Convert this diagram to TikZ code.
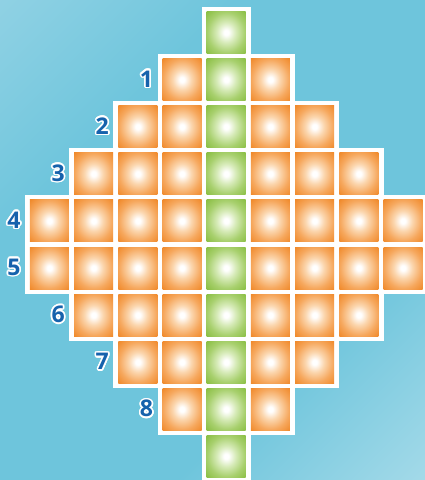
\documentclass[tikz,border=0pt]{standalone}
\usepackage{fontspec}
\setsansfont{Open Sans}
\usepackage[copies]{contour}
\contourlength{1.6pt}
\definecolor{bgA}{HTML}{AADBEA}
\definecolor{bgB}{HTML}{6EC5DC}
\definecolor{bgC}{HTML}{CBE9F2}
\definecolor{oLight}{HTML}{FBD6AE}
\definecolor{oMid}{HTML}{F6A85E}
\definecolor{oDeep}{HTML}{F08A2C}
\definecolor{gLight}{HTML}{D7EBB9}
\definecolor{gMid}{HTML}{A8D06E}
\definecolor{gDeep}{HTML}{8BBF45}
\definecolor{numblue}{HTML}{1662AC}
\pgfdeclarehorizontalshading{bgshade}{100bp}{color(0bp)=(bgA); color(33bp)=(bgB); color(66bp)=(bgB); color(100bp)=(bgC)}
\pgfdeclareradialshading{oshade}{\pgfpoint{0bp}{0bp}}{color(0bp)=(white); color(3bp)=(white); color(12bp)=(oLight); color(24bp)=(oMid); color(35bp)=(oDeep); color(50bp)=(oDeep)}
\pgfdeclareradialshading{gshade}{\pgfpoint{0bp}{0bp}}{color(0bp)=(white); color(3bp)=(white); color(12bp)=(gLight); color(24bp)=(gMid); color(35bp)=(gDeep); color(50bp)=(gDeep)}
\tikzset{
  lbl/.style={font=\sffamily\bfseries\fontsize{23}{23}\selectfont, text=numblue, inner sep=0pt},
  cellbg/.style={fill=white},
}
\begin{document}
\begin{tikzpicture}[x=1pt,y=-1pt]
\useasboundingbox (0,0) rectangle (425,480);
\clip (0,0) rectangle (425,480);
\shade[shading=bgshade, shading angle=-45] (0,0) rectangle (425,480);
% white backing
\foreach \r/\w in {0/0,1/1,2/2,3/3,4/4,5/4,6/3,7/2,8/1,9/0}{
  \pgfmathtruncatemacro\lo{-\w}
  \foreach \c in {\lo,...,\w}{
    \fill[cellbg] ({206.7+44.2*\c-5},{11.5+47.1*\r-5}) rectangle ++(49.2,52.1);
  }
}
% coloured cells
\foreach \r/\w in {0/0,1/1,2/2,3/3,4/4,5/4,6/3,7/2,8/1,9/0}{
  \pgfmathtruncatemacro\lo{-\w}
  \foreach \c in {\lo,...,\w}{
    \ifnum\c=0 \def\shname{gshade}\else\def\shname{oshade}\fi
    \shade[shading=\shname] ({206.7+44.2*\c},{11.5+47.1*\r}) rectangle ++(39,42);
  }
}
% row numbers
\foreach \r/\w in {1/1,2/2,3/3,4/4,5/4,6/3,7/2,8/1}{
  \node[lbl] (l\r) at ({206.7-44.2*\w-16},{11.5+47.1*\r+21}) {\contour{white}{\r}};
}
\end{tikzpicture}
\end{document}
